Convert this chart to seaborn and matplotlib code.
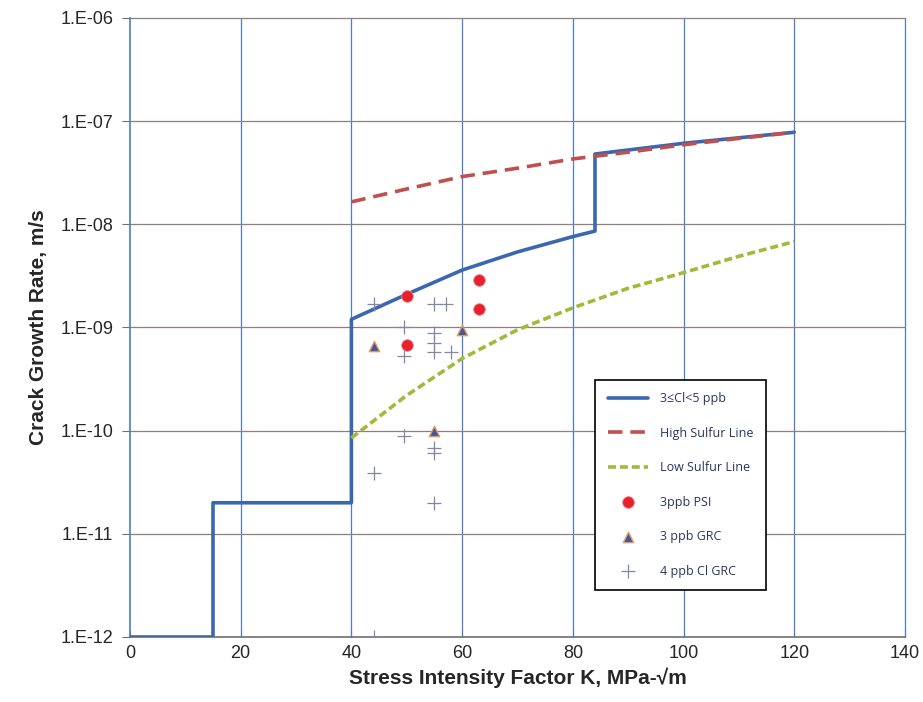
import numpy as np
import pandas as pd
import matplotlib
matplotlib.use("Agg")
import matplotlib.pyplot as plt
import seaborn as sns

# Disposition line, 3<=Cl<5 ppb (step function then power-law segments)
disp_k = [0, 15, 15, 40, 40, 50, 60, 70, 80, 84, 84, 100, 120]
disp_v = [1e-12, 1e-12, 2e-11, 2e-11, 1.2e-9, 2.1e-9, 3.6e-9, 5.4e-9, 7.6e-9, 8.6e-9, 4.8e-8, 6.1e-8, 7.8e-8]

# High sulfur line
hs_k = [40, 50, 60, 70, 80, 90, 100, 110, 120]
hs_v = [1.65e-8, 2.2e-8, 2.9e-8, 3.5e-8, 4.3e-8, 5.0e-8, 5.9e-8, 6.8e-8, 7.8e-8]

# Low sulfur line
ls_k = [40, 50, 60, 70, 80, 90, 100, 110, 120]
ls_v = [8.5e-11, 2.2e-10, 5.0e-10, 9.5e-10, 1.55e-9, 2.4e-9, 3.4e-9, 4.9e-9, 6.8e-9]

# 3 ppb PSI data
psi_k = [50, 50, 63, 63]
psi_v = [2.0e-9, 6.8e-10, 2.9e-9, 1.5e-9]

# 3 ppb GRC data
grc_k = [44, 60, 55]
grc_v = [6.6e-10, 9.5e-10, 1.0e-10]

# 4 ppb Cl GRC data
cl_k = [44, 49.5, 49.5, 55, 57, 55, 55, 55, 58, 49.5, 55, 55, 44, 55, 44]
cl_v = [1.7e-9, 1.0e-9, 5.3e-10, 1.7e-9, 1.7e-9, 8.9e-10, 7.0e-10, 5.8e-10, 5.8e-10,
        8.8e-11, 6.8e-11, 6.1e-11, 3.9e-11, 2.0e-11, 1.0e-12]

xticks = [0, 20, 40, 60, 80, 100, 120, 140]
ytick_vals = [1e-12, 1e-11, 1e-10, 1e-9, 1e-8, 1e-7, 1e-6]
ytick_labels = ["1.E-12", "1.E-11", "1.E-10", "1.E-09", "1.E-08", "1.E-07", "1.E-06"]

sns.set_style("white")
plt.rcParams["font.family"] = ["Liberation Sans", "DejaVu Sans"]

fig = plt.figure(figsize=(9.23, 7.02), dpi=100)
ax = fig.add_axes([0.1408, 0.0926, 0.8397, 0.8818])

blue = "#3b67b1"
red = "#c0504d"
green = "#a4b83a"

df_disp = pd.DataFrame({"K": disp_k, "v": disp_v})
df_hs = pd.DataFrame({"K": hs_k, "v": hs_v})
df_ls = pd.DataFrame({"K": ls_k, "v": ls_v})

sns.lineplot(data=df_disp, x="K", y="v", ax=ax, color=blue, lw=2.6, sort=False,
             estimator=None, label="3\u2264Cl<5 ppb", zorder=4)
sns.lineplot(data=df_hs, x="K", y="v", ax=ax, color=red, lw=2.6, sort=False,
             estimator=None, label="High Sulfur Line", zorder=4)
ax.lines[-1].set_dashes([4, 2.2])
sns.lineplot(data=df_ls, x="K", y="v", ax=ax, color=green, lw=2.6, sort=False,
             estimator=None, label="Low Sulfur Line", zorder=4)
ax.lines[-1].set_dashes([2.2, 1.1])

sns.scatterplot(x=psi_k, y=psi_v, ax=ax, marker="o", s=70, color="#e8202e",
                edgecolor="#f08080", linewidth=0.6, label="3ppb PSI", zorder=5)
sns.scatterplot(x=grc_k, y=grc_v, ax=ax, marker="^", s=55, color="#3a5aa8",
                edgecolor="#e59a5a", linewidth=1.0, label="3 ppb GRC", zorder=5)
sns.scatterplot(x=cl_k, y=cl_v, ax=ax, marker="+", s=100, color="#8088a6",
                linewidth=0.9, label="4 ppb Cl GRC", zorder=5)

ax.set_yscale("log")
ax.set_xlim(0, 140)
ax.set_ylim(1e-12, 1e-6)
ax.set_xticks(xticks)
ax.set_yticks(ytick_vals)
ax.set_yticklabels(ytick_labels)
ax.yaxis.set_minor_locator(matplotlib.ticker.NullLocator())

# Grid: blue verticals, brownish horizontals
for xv in xticks[1:]:
    ax.axvline(xv, color="#4a7ec6", lw=0.9, zorder=1, clip_on=False)
for yv in ytick_vals[1:]:
    ax.axhline(yv, color="#8c7f7f", lw=0.9, zorder=1, clip_on=False)

for side in ["top", "right"]:
    ax.spines[side].set_visible(False)
ax.spines["left"].set_color("#4a7ec6")
ax.spines["left"].set_linewidth(1.2)
ax.spines["bottom"].set_color("#6e6e6e")
ax.spines["bottom"].set_linewidth(1.2)

ax.tick_params(axis="y", which="major", direction="out", length=6, width=0.8,
               color="#6e6e6e", labelsize=13, pad=6, left=True)
ax.tick_params(axis="x", which="major", direction="in", length=5, width=0.8,
               color="#6e6e6e", labelsize=13, pad=6, bottom=True)

ax.set_xlabel("Stress Intensity Factor K, MPa-\u221am", fontsize=15, fontweight="bold", labelpad=4)
ax.set_ylabel("Crack Growth Rate, m/s", fontsize=15, fontweight="bold", labelpad=9)

leg = ax.legend(loc="upper left", bbox_to_anchor=(0.5925, 0.426), frameon=True,
                fancybox=False, edgecolor="black", framealpha=1,
                prop={"family": ["Open Sans", "DejaVu Sans"], "size": 9},
                labelspacing=1.72, handlelength=3.2, borderpad=1.0, handletextpad=1.0)
leg.get_frame().set_linewidth(1.2)
leg.set_zorder(10)
for t in leg.get_texts():
    t.set_color("#2a3560")

fig.savefig("out.png", dpi=100)
